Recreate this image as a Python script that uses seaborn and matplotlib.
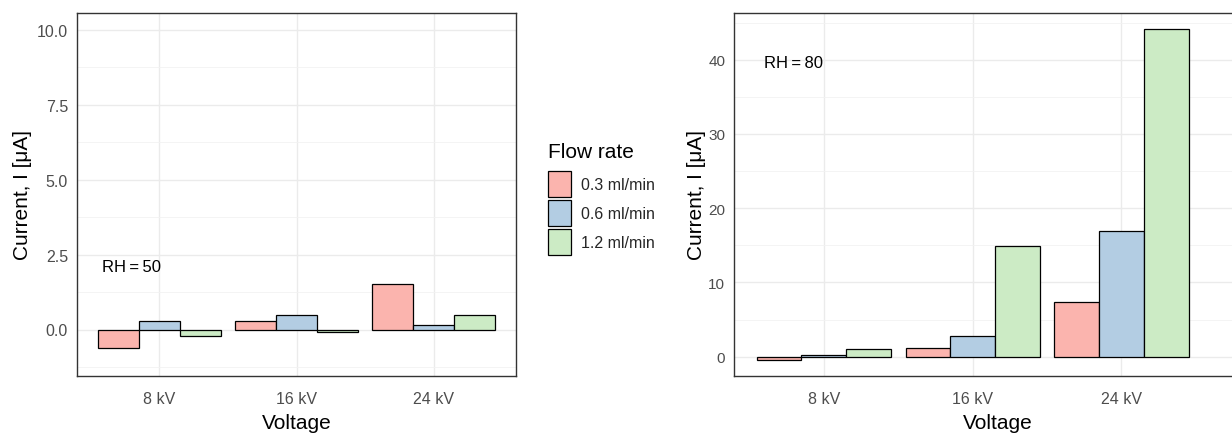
import numpy as np
import pandas as pd
import matplotlib
matplotlib.use("Agg")
import matplotlib.pyplot as plt
from matplotlib.patches import Patch
from matplotlib.ticker import MultipleLocator
import seaborn as sns

# ---- data ----
voltages = ['8 kV', '16 kV', '24 kV']
flow_rates = ['0.3 ml/min', '0.6 ml/min', '1.2 ml/min']
rh50_03 = [-0.61, 0.29, 1.51]
rh50_06 = [0.29, 0.50, 0.16]
rh50_12 = [-0.21, -0.08, 0.49]
rh80_03 = [-0.45, 1.17, 7.42]
rh80_06 = [0.20, 2.80, 17.0]
rh80_12 = [1.00, 14.97, 44.1]
palette = ['#FBB4AE', '#B3CDE3', '#CCEBC5']

def frame(a, b, c):
    rows = []
    for fr, vals in zip(flow_rates, [a, b, c]):
        for v, val in zip(voltages, vals):
            rows.append({'Voltage': v, 'Flow rate': fr, 'Current': val})
    return pd.DataFrame(rows)

df50 = frame(rh50_03, rh50_06, rh50_12)
df80 = frame(rh80_03, rh80_06, rh80_12)

sns.set_theme(style='white')
plt.rcParams['font.family'] = ['Liberation Sans', 'DejaVu Sans']

W, H = 1232, 435
fig = plt.figure(figsize=(W / 100, H / 100), dpi=100)
ax1 = fig.add_axes([77 / W, 1 - 377 / H, 439 / W, 363 / H])
ax2 = fig.add_axes([734.3 / W, 1 - 377 / H, (1262 - 734.3) / W, 363 / H])

for ax, df in [(ax1, df50), (ax2, df80)]:
    sns.barplot(data=df, x='Voltage', y='Current', hue='Flow rate',
                order=voltages, hue_order=flow_rates, palette=palette,
                saturation=1, width=0.9, edgecolor='black', linewidth=0.9,
                errorbar=None, legend=False, ax=ax, zorder=3)

def style(ax, ylim, major, minor, fmt, ysize):
    ax.set_axisbelow(True)
    ax.set_ylim(*ylim)
    ax.yaxis.set_major_locator(MultipleLocator(major))
    ax.yaxis.set_minor_locator(MultipleLocator(minor))
    ax.grid(True, which='major', color='#EBEBEB', lw=1.0, zorder=0)
    ax.grid(True, which='minor', axis='y', color='#F2F2F2', lw=0.6, zorder=0)
    for s in ax.spines.values():
        s.set_color('#333333')
        s.set_linewidth(1.0)
        s.set_zorder(5)
    ax.tick_params(axis='both', which='major', length=3.5, width=0.8,
                   color='#333333', labelcolor='#4D4D4D', labelsize=11.5)
    ax.tick_params(axis='y', which='major', pad=3, labelsize=ysize)
    ax.tick_params(axis='x', which='major', pad=7.5)
    ax.tick_params(axis='y', which='minor', length=0)
    ticks = ax.get_yticks()
    ax.set_yticks(ticks)
    ax.set_yticklabels([fmt(t) for t in ticks])
    ax.set_ylim(*ylim)
    ax.set_xticks(range(len(voltages)))
    ax.set_xticklabels(voltages)

style(ax1, (-1.55, 10.55), 2.5, 1.25, lambda t: f'{t:.1f}', 11.5)
style(ax2, (-2.6, 46.3), 10, 5, lambda t: f'{t:.0f}', 11)
ax1.set_xlim(-0.6, 2.6)
ax2.set_xlim(-0.6, 2 + (1262 - 1121.7) / 148.7)

for ax, ylx in [(ax1, (32 - 77) / 439), (ax2, (706 - 734.3) / 527.7)]:
    ax.set_xlabel('Voltage', fontsize=15, color='black')
    ax.set_ylabel('Current, I [μA]', fontsize=15, color='black')
    ax.xaxis.set_label_coords(0.5, -(414 - 377) / 363)
    ax.yaxis.set_label_coords(ylx, 0.5)

ax1.text(-0.2, 2.1, 'RH\u2009=\u200950', fontsize=12, ha='center', va='center', color='black')
ax2.text(-0.2, 39.6, 'RH\u2009=\u200980', fontsize=12, ha='center', va='center', color='black')

fig.text(548 / W, 1 - 152 / H, 'Flow rate', fontsize=15, ha='left', va='center', color='black')
handles = [Patch(facecolor=c, edgecolor='black', linewidth=0.9) for c in palette]
fig.legend(handles, flow_rates, loc='upper left',
           bbox_to_anchor=(547.5 / W, 1 - 172 / H), frameon=False,
           fontsize=11.5, handlelength=1.5, handleheight=2.12, labelspacing=0.18,
           handletextpad=0.62, borderpad=0, borderaxespad=0)

fig.savefig('out.png', dpi=100)
